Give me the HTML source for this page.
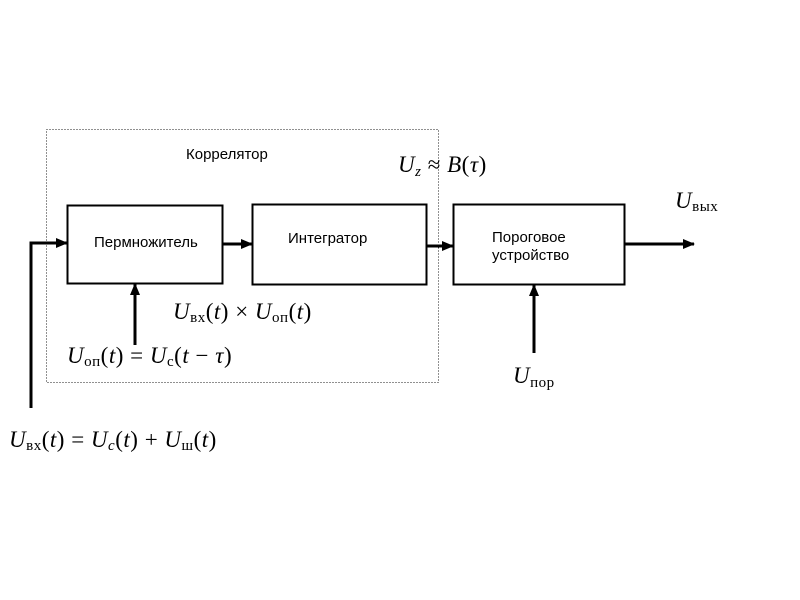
<!DOCTYPE html>
<html><head><meta charset="utf-8"><style>
html,body{margin:0;padding:0;background:#fff;}
svg{display:block;}
.s{font-family:"Liberation Sans",sans-serif;font-size:15px;fill:#000;}
.m{font-family:"Liberation Serif","DejaVu Serif",serif;font-size:23px;fill:#000;letter-spacing:0.5px;}
.i{font-style:italic;}
.sub{font-size:15px;}
</style></head><body>
<svg width="800" height="600" viewBox="0 0 800 600" xmlns="http://www.w3.org/2000/svg">
<defs><marker id="a" markerWidth="12" markerHeight="10" refX="11" refY="5" orient="auto" markerUnits="userSpaceOnUse"><path d="M0,0 L12,5 L0,10 z" fill="#000"/></marker></defs>
<rect x="46.5" y="129.5" width="392" height="253" fill="none" stroke="#222" stroke-width="1" stroke-dasharray="1,2"/>
<rect x="67.5" y="205.5" width="155" height="78" fill="none" stroke="#000" stroke-width="2"/>
<rect x="252.5" y="204.5" width="174" height="80" fill="none" stroke="#000" stroke-width="2"/>
<rect x="453.5" y="204.5" width="171" height="80" fill="none" stroke="#000" stroke-width="2"/>
<g stroke="#000" stroke-width="3" fill="none">
<polyline points="31,408 31,243 46,243"/>
<line x1="46" y1="243" x2="67" y2="243" marker-end="url(#a)"/>
<line x1="223" y1="244" x2="252" y2="244" marker-end="url(#a)"/>
<line x1="427" y1="246" x2="453" y2="246" marker-end="url(#a)"/>
<line x1="625" y1="244" x2="694" y2="244" marker-end="url(#a)"/>
<line x1="135" y1="345" x2="135" y2="284" marker-end="url(#a)"/>
<line x1="534" y1="353" x2="534" y2="285" marker-end="url(#a)"/>
</g>
<text class="s" x="186" y="159">Коррелятор</text>
<text class="s" x="94" y="247">Пермножитель</text>
<text class="s" x="288" y="243">Интегратор</text>
<text class="s" x="492" y="242">Пороговое</text>
<text class="s" x="492" y="260">устройство</text>
<text class="m" x="398" y="172"><tspan class="i">U</tspan><tspan class="i sub" dy="4">z</tspan><tspan dy="-4"> ≈ </tspan><tspan class="i">B</tspan>(<tspan class="i">τ</tspan>)</text>
<text class="m" x="675" y="208"><tspan class="i">U</tspan><tspan class="sub" dy="3">вых</tspan></text>
<text class="m" x="173" y="319"><tspan class="i">U</tspan><tspan class="sub" dy="3">вх</tspan><tspan dy="-3">(</tspan><tspan class="i">t</tspan>) × <tspan class="i">U</tspan><tspan class="sub" dy="3">оп</tspan><tspan dy="-3">(</tspan><tspan class="i">t</tspan>)</text>
<text class="m" x="67" y="363"><tspan class="i">U</tspan><tspan class="sub" dy="3">оп</tspan><tspan dy="-3">(</tspan><tspan class="i">t</tspan>) = <tspan class="i">U</tspan><tspan class="sub" dy="3">с</tspan><tspan dy="-3">(</tspan><tspan class="i">t</tspan> − <tspan class="i">τ</tspan>)</text>
<text class="m" x="513" y="383"><tspan class="i">U</tspan><tspan class="sub" dy="4">пор</tspan></text>
<text class="m" x="9" y="447"><tspan class="i">U</tspan><tspan class="sub" dy="3">вх</tspan><tspan dy="-3">(</tspan><tspan class="i">t</tspan>) = <tspan class="i">U</tspan><tspan class="i sub" dy="3">c</tspan><tspan dy="-3">(</tspan><tspan class="i">t</tspan>) + <tspan class="i">U</tspan><tspan class="sub" dy="3">ш</tspan><tspan dy="-3">(</tspan><tspan class="i">t</tspan>)</text>
</svg>
</body></html>
